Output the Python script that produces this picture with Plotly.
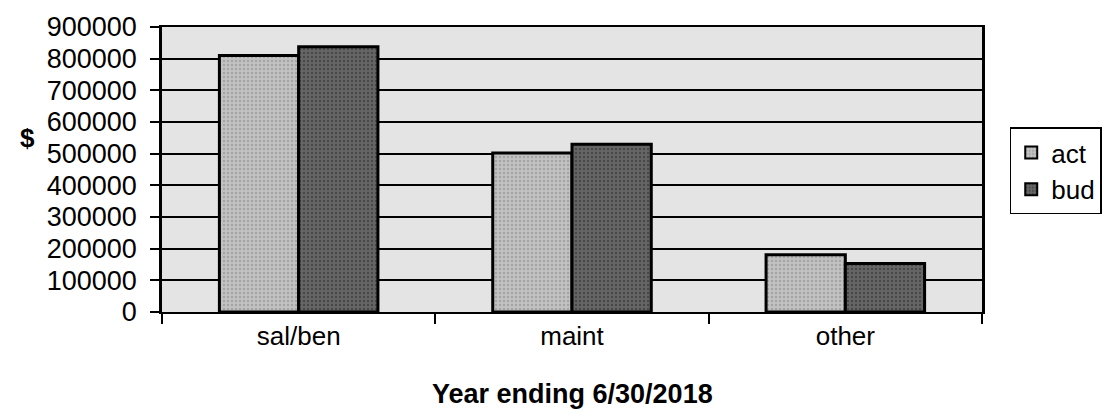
import plotly.graph_objects as go

categories = ["sal/ben", "maint", "other"]
act = [810000, 502000, 181000]
bud = [838000, 530000, 153000]
series_names = ["act", "bud"]
y_ticks = [0, 100000, 200000, 300000, 400000, 500000, 600000, 700000, 800000, 900000]
x_title = "Year ending 6/30/2018"
y_title = "$"

FONT = "Liberation Sans, Arial, sans-serif"
W, H = 1114, 420
ML, MR, MT, MB = 162, 124, 23, 108
PW, PH = W - ML - MR, H - MT - MB


def px_to_paper(x, y):
    return (x - ML) / PW, (H - MB - y) / PH


fig = go.Figure()
fig.add_trace(go.Bar(
    name=series_names[0], x=categories, y=act,
    marker=dict(color="#b4b4b4", line=dict(color="black", width=3),
                pattern=dict(shape=".", fgcolor="#858585", bgcolor="#c2c2c2", size=4, solidity=0.3)),
))
fig.add_trace(go.Bar(
    name=series_names[1], x=categories, y=bud,
    marker=dict(color="#505050", line=dict(color="black", width=3),
                pattern=dict(shape=".", fgcolor="#2a2a2a", bgcolor="#666666", size=4, solidity=0.3)),
))

tx, ty = px_to_paper(576, 395)
dx, dy = px_to_paper(26, 136)
lx, ly = px_to_paper(1018, 169)

fig.update_layout(
    width=W, height=H,
    margin=dict(l=ML, r=MR, t=MT, b=MB),
    paper_bgcolor="white",
    plot_bgcolor="#e4e4e4",
    barmode="group", bargap=0.42, bargroupgap=0,
    font=dict(family=FONT, size=26, color="black"),
    showlegend=True,
    legend=dict(
        x=lx, y=ly, xanchor="left", yanchor="middle",
        bordercolor="black", borderwidth=1.5, bgcolor="white",
        font=dict(size=26), itemsizing="constant", itemwidth=30,
    ),
    xaxis=dict(
        showline=True, linecolor="black", linewidth=2, mirror=True,
        ticks="outside", ticklen=10, tickwidth=1.5, tickcolor="black",
        tickson="boundaries", showgrid=False, ticklabelstandoff=0,
    ),
    yaxis=dict(
        range=[0, 900000], tickvals=y_ticks, tickformat="d",
        showline=True, linecolor="black", linewidth=2.5, mirror=True,
        ticks="outside", ticklen=9, tickwidth=1.5, tickcolor="black",
        showgrid=True, gridcolor="black", gridwidth=2,
        zeroline=False, ticklabelstandoff=8, tickfont=dict(size=27),
    ),
    annotations=[
        dict(text="<b>" + x_title + "</b>", x=tx, y=ty, xref="paper", yref="paper",
             xanchor="center", yanchor="middle", showarrow=False, font=dict(size=27)),
        dict(text="<b>" + y_title + "</b>", x=dx, y=dy, xref="paper", yref="paper",
             xanchor="center", yanchor="middle", showarrow=False, font=dict(size=26)),
    ],
)

fig.write_html("out.html")
